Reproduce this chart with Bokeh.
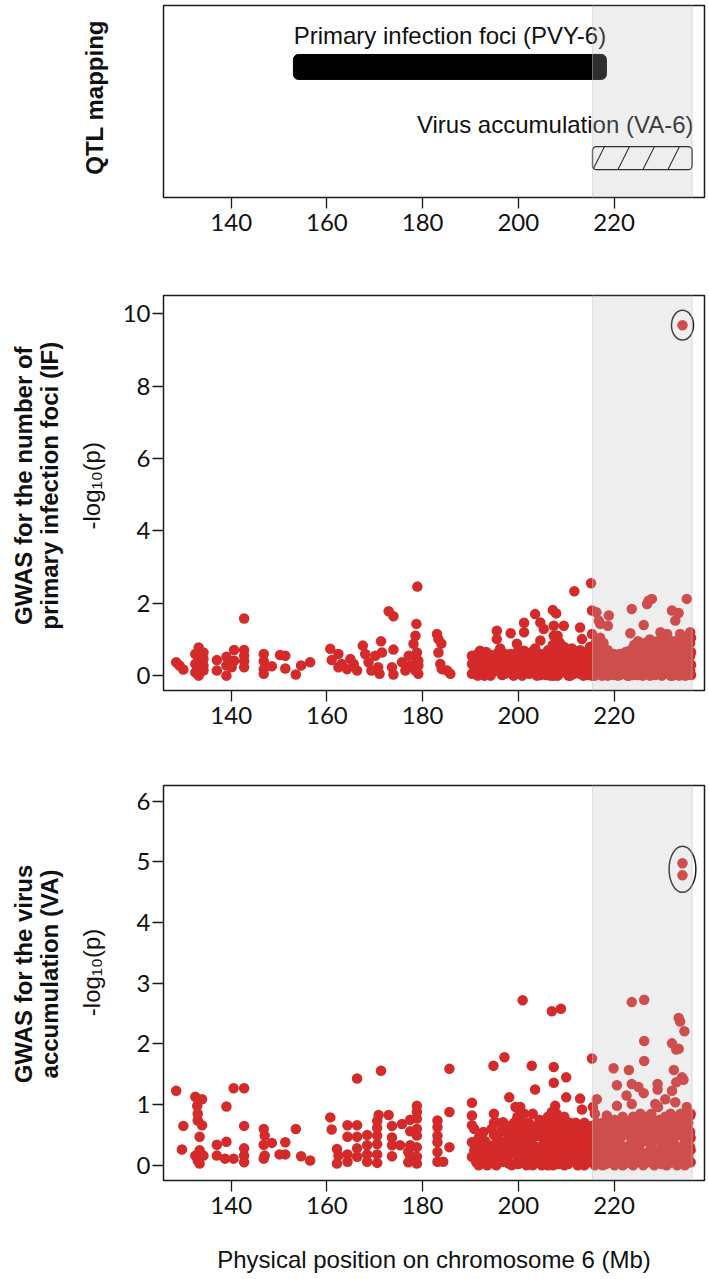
import math
from bokeh.plotting import figure
from bokeh.models import Range1d, BoxAnnotation, Label, FixedTicker
from bokeh.layouts import column, row
from bokeh.embed import file_html
from bokeh.resources import INLINE

# ---------------- data ----------------
qtl_names = ["Primary infection foci (PVY-6)", "Virus accumulation (VA-6)"]
qtl_start = [153.0, 215.5]
qtl_end = [218.4, 236.3]

x_ticks = [140, 160, 180, 200, 220]
if_ticks = [0, 2, 4, 6, 8, 10]
va_ticks = [0, 1, 2, 3, 4, 5, 6]

# GWAS IF: positions (Mb) and -log10(p) values read at each position
if_pos = [128.5, 129.2, 130.0, 132.5, 133.2, 134.2, 137.0, 139.0, 140.1, 140.6,
          142.7, 146.8, 148.5, 150.2, 151.3, 153.5, 154.6, 156.5, 160.7, 161.0,
          162.4, 163.1, 164.2, 164.9, 165.6, 166.3, 167.5, 168.0, 168.7, 169.3,
          170.1, 170.7, 171.0, 171.3, 171.5, 172.9, 173.6, 173.9, 175.7, 176.4,
          177.1, 177.4, 178.1, 178.5, 178.7, 178.9, 178.8, 179.1, 183.0, 183.3,
          183.9, 183.7, 184.0, 185.1, 185.8, 190.3, 191.0, 192.0, 192.9, 193.8,
          194.6, 195.5, 195.8, 196.6, 197.7, 198.4, 199.7, 200.4, 201.2, 202.3,
          203.5, 204.6, 205.3, 206.2, 207.2, 207.4, 207.9, 208.6, 209.5, 210.5,
          211.2, 211.7, 212.2, 212.9, 213.3, 214.0, 215.0, 215.2, 215.4, 216.3,
          216.8, 217.1, 217.8, 218.7, 218.9, 219.5, 220.4, 221.2, 222.0, 222.8,
          223.4, 223.7, 224.2, 225.0, 225.8, 226.2, 226.5, 226.9, 227.2, 227.9,
          227.5, 228.3, 229.0, 229.7, 230.4, 231.1, 231.8, 232.1, 232.5, 232.8,
          233.5, 233.2, 233.8, 234.5, 235.2, 235.9]
if_vals = [[0.37], [0.28], [0.17], [0.60, 0.32, 0.09], [0.78, 0.64, 0.49, 0.37, 0.23, 0.09, 0.0],
           [0.64, 0.46, 0.28, 0.14], [0.43, 0.14], [0.52, 0.28, 0.0], [0.37, 0.23], [0.71, 0.41],
           [1.58, 0.71, 0.55, 0.40, 0.23], [0.60, 0.40, 0.18, 0.05], [0.26], [0.57], [0.55, 0.20],
           [0.03], [0.28], [0.37], [0.74], [0.43],
           [0.60, 0.23], [0.32], [0.18], [0.46], [0.32], [0.14], [0.83], [0.60], [0.37], [0.14],
           [0.55], [0.23], [0.05], [0.95], [0.64], [1.78], [0.23], [1.64, 0.72, 0.03], [0.37], [0.14],
           [0.55], [0.28], [0.88, 0.23], [1.10, 0.14], [1.43], [2.46], [0.64, 0.45], [0.41, 0.05, 0.28], [1.15], [1.01, 0.64],
           [0.89], [0.32], [0.18], [0.14], [0.05], [0.55, 0.32, 0.05], [0.45, 0.18], [0.69, 0.41, 0.14], [0.30, 0.0], [0.50, 0.23, 0.05],
           [0.40, 0.10], [1.24, 1.01], [0.64, 0.37, 0.14], [0.50, 0.25, 0.02], [0.46, 0.23], [1.17, 0.60, 0.08], [0.88, 0.60, 0.32, 0.05], [0.45, 0.18], [1.46, 1.20, 0.69, 0.41, 0.10], [0.55, 0.30, 0.05],
           [1.70, 0.75, 0.45, 0.15], [1.47, 0.97, 0.60, 0.32, 0.02], [1.29, 0.50, 0.20], [0.70, 0.40, 0.10], [1.81, 0.85, 0.55, 0.25], [1.38, 1.10, 0.70, 0.0], [1.72, 0.45, 0.15], [0.92, 0.65, 0.35, 0.05], [1.38, 0.80, 0.50, 0.20], [0.60, 0.30, 0.0],
           [0.75, 0.45, 0.12], [2.33], [0.55, 0.25], [1.33, 0.70, 0.40, 0.05], [1.01], [0.55, 0.28, 0.10], [0.80, 0.45, 0.15], [2.55], [1.80, 1.15, 0.62, 0.30, 0.0], [1.75, 0.95, 0.55, 0.20],
           [1.52, 0.80, 0.40, 0.05], [1.43, 1.05, 0.65, 0.30], [0.90, 0.50, 0.15], [1.38, 0.70, 0.35, 0.0], [1.66], [0.55, 0.25, 0.05], [0.45, 0.15], [0.60, 0.30, 0.02], [0.40, 0.10], [0.55, 0.25, 0.0],
           [1.17, 0.70, 0.35], [1.84], [0.85, 0.50, 0.15], [0.95, 0.60, 0.30, 0.02], [0.75, 0.40, 0.10], [1.40], [0.90, 0.55, 0.20], [1.98], [2.07], [2.12],
           [1.00, 0.65, 0.30, 0.0], [0.80, 0.45, 0.15], [0.95, 0.60, 0.25], [1.20, 0.85, 0.50, 0.05], [0.70, 0.35, 0.10], [1.15, 0.90, 0.55, 0.20], [0.75, 0.40, 0.0], [1.80], [0.95, 0.60, 0.25], [1.52],
           [1.73], [0.80, 0.45, 0.10], [1.15, 0.95, 0.55, 0.20], [0.70, 0.35, 0.02], [2.12, 1.00, 0.60, 0.25], [1.20, 0.90, 0.55, 0.15]]
# dense lower band of IF markers between 190 and 236 Mb
if_pos_dense = [190.7, 191.5, 192.5, 193.3, 194.2, 195.1, 196.2, 197.2, 198.0, 199.0,
                200.0, 200.8, 201.8, 202.8, 203.9, 204.9, 205.8, 206.7, 207.7, 208.2,
                209.0, 210.0, 210.9, 211.6, 212.6, 213.6, 214.5, 215.8, 216.0, 217.5,
                218.2, 219.1, 220.0, 220.8, 221.6, 222.4, 223.1, 223.9, 224.6, 225.4,
                226.0, 226.8, 227.8, 228.6, 229.3, 230.0, 230.8, 231.5, 232.2, 232.9,
                233.6, 234.1, 234.9, 235.5, 236.1]
if_vals_dense = [[0.40, 0.10], [0.60, 0.30, 0.0], [0.55, 0.20], [0.65, 0.35, 0.10], [0.58, 0.25, 0.0],
                 [0.50, 0.20], [0.75, 0.40, 0.10], [0.60, 0.30, 0.05], [0.40, 0.15], [0.50, 0.25, 0.0],
                 [0.70, 0.35, 0.10], [0.55, 0.25, 0.0], [0.45, 0.15], [0.65, 0.40, 0.10], [0.60, 0.30, 0.0],
                 [0.45, 0.15], [0.60, 0.30, 0.02], [0.55, 0.25, 0.0], [0.90, 0.60, 0.30, 0.05], [1.10, 0.80, 0.55, 0.25, 0.0],
                 [0.65, 0.40, 0.10], [0.75, 0.45, 0.15], [0.55, 0.20, 0.0], [0.65, 0.35, 0.05], [0.50, 0.15],
                 [0.65, 0.40, 0.0], [0.50, 0.20, 0.02], [0.45, 0.10], [0.70, 0.35, 0.0], [0.20, 0.0],
                 [0.55, 0.25, 0.05], [0.40, 0.10], [0.60, 0.30, 0.02], [0.55, 0.20, 0.0], [0.45, 0.15],
                 [0.65, 0.35, 0.05], [0.50, 0.15, 0.0], [0.60, 0.30, 0.02], [0.70, 0.35, 0.05], [0.50, 0.15],
                 [0.65, 0.30, 0.0], [0.75, 0.40, 0.10], [0.55, 0.20], [0.65, 0.30, 0.02], [0.40, 0.10],
                 [0.95, 0.60, 0.25, 0.0], [0.50, 0.15], [0.65, 0.30, 0.05], [0.50, 0.15, 0.0], [0.65, 0.30, 0.05],
                 [0.60, 0.35, 0.0], [0.85, 0.45, 0.15], [0.90, 0.55, 0.20, 0.0], [0.70, 0.40, 0.05], [1.05, 0.65, 0.30, 0.02]]
if_peak_pos = [234.3]
if_peak_val = [9.68]

# GWAS VA
va_pos = [128.5, 129.7, 130.0, 132.5, 132.9, 133.0, 133.4, 133.9, 134.2, 137.0,
          138.7, 139.0, 140.5, 142.7, 146.8, 147.0, 148.5, 150.1, 151.3, 153.5,
          154.6, 156.5, 160.7, 161.0, 162.1, 162.4, 164.3, 166.3, 168.4, 170.5,
          170.8, 171.3, 172.9, 173.6, 175.3, 175.7, 177.0, 177.4, 178.8, 183.1,
          184.3, 185.6, 190.3, 191.2, 192.2, 193.0, 193.9, 194.8, 194.9, 195.8,
          196.8, 197.1, 198.0, 198.1, 199.4, 199.8, 200.4, 200.9, 201.2, 202.2,
          202.8, 203.5, 204.4, 205.3, 206.2, 207.0, 207.4, 207.7, 208.4, 208.9,
          209.2, 210.0, 210.8, 211.6, 212.4, 212.9, 213.3, 214.2, 215.0, 215.4,
          215.6, 216.4, 217.2, 218.0, 218.5, 218.9, 219.6, 219.9, 220.6, 221.4,
          222.2, 222.6, 223.1, 223.7, 224.3, 225.1, 225.8, 226.2, 226.3, 226.8,
          227.5, 228.1, 228.6, 229.1, 229.2, 229.9, 230.7, 231.4, 232.1, 232.5,
          232.8, 233.0, 233.5, 233.8, 234.2, 234.5, 234.7, 235.2, 235.9]
va_vals = [[1.23], [0.26], [0.65], [1.13, 0.16], [0.98], [0.85, 0.74, 0.08], [0.47, 0.25, 0.03], [1.09, 0.66], [0.16], [0.34, 0.16],
           [0.11], [0.97, 0.39], [1.27, 0.11], [1.27, 0.65, 0.28, 0.16, 0.05], [0.60, 0.34, 0.11], [0.49, 0.16], [0.37], [0.18], [0.38, 0.18], [0.60],
           [0.15], [0.08], [0.79], [0.59], [0.27, 0.03], [0.16], [0.66, 0.47, 0.18, 0.06], [1.43, 0.66, 0.47, 0.28, 0.14], [0.50, 0.33, 0.18, 0.06], [0.73, 0.62, 0.49, 0.35, 0.18, 0.04],
           [0.83], [1.56], [0.83], [0.65, 0.46, 0.33, 0.15], [0.33], [0.68], [0.22, 0.05], [0.75, 0.56, 0.33, 0.16], [0.98, 0.88, 0.77, 0.60, 0.49, 0.30, 0.14, 0.03], [0.74, 0.63, 0.49, 0.38, 0.22, 0.06],
           [0.06], [1.59, 0.88, 0.30], [1.03, 0.82, 0.66, 0.38, 0.14], [0.25, 0.05], [0.33, 0.16, 0.03], [0.40, 0.10], [0.16, 0.05], [1.64], [0.85, 0.70, 0.50, 0.33, 0.16, 0.03], [0.45, 0.25, 0.08],
           [0.71, 0.57, 0.38, 0.22, 0.06], [1.78], [0.49, 0.33, 0.17, 0.03], [1.12], [0.96], [0.80, 0.60, 0.44, 0.28, 0.11], [0.96], [2.72], [0.85, 0.60, 0.33, 0.10], [0.70, 0.45, 0.20, 0.02],
           [1.64], [1.25, 0.55, 0.30, 0.08], [0.75, 0.48, 0.18], [0.65, 0.35, 0.05], [0.80, 0.50, 0.22, 0.0], [2.54, 0.88, 0.60, 0.30, 0.08], [1.62, 1.36], [0.98, 0.45, 0.15], [0.75, 0.50, 0.25, 0.02], [2.58],
           [0.65, 0.35, 0.10], [1.45, 1.12, 0.55, 0.20], [0.70, 0.40, 0.05], [0.55, 0.25], [0.45, 0.15, 0.0], [1.10], [0.92, 0.60, 0.30, 0.05], [0.45, 0.15], [0.35, 0.08], [1.76],
           [0.96, 0.55, 0.20], [1.09, 0.70, 0.40, 0.10], [0.55, 0.25, 0.02], [0.45, 0.15], [0.82, 0.30], [0.74, 0.05], [0.50, 0.20], [1.60], [1.32, 0.98, 0.65, 0.35, 0.08], [0.45, 0.15],
           [0.70, 0.30, 0.02], [1.15], [1.57, 0.50, 0.20], [2.69, 1.34, 1.01, 0.75], [0.40, 0.10], [1.29, 0.65, 0.30], [0.50, 0.15], [1.19], [2.73, 2.05, 1.72], [0.80, 0.40, 0.05],
           [0.60, 0.25], [0.75, 0.40, 0.10], [1.01], [1.34, 1.25], [0.96, 0.55, 0.20], [0.70, 0.35, 0.02], [1.09, 0.80, 0.45, 0.15], [0.60, 0.25], [2.01, 1.23, 0.70, 0.35, 0.05], [1.57],
           [1.04, 0.50, 0.15], [1.91, 1.37], [2.43, 1.92, 0.80, 0.30], [2.37], [1.45, 0.60, 0.10], [1.41], [2.21], [0.96, 0.45, 0.20], [0.82, 0.55, 0.30, 0.05]]
# dense lower band of VA markers between 190 and 236 Mb
va_pos_dense = [190.8, 191.7, 192.7, 193.5, 194.4, 195.4, 196.3, 197.5, 198.6, 199.1,
                200.0, 200.7, 201.7, 202.6, 203.0, 203.9, 204.9, 205.8, 206.6, 207.3,
                208.0, 208.7, 209.6, 210.4, 211.2, 212.0, 212.8, 213.8, 214.6, 215.3,
                216.0, 216.8, 217.6, 218.3, 219.2, 220.1, 221.0, 221.8, 222.5, 223.4,
                224.0, 224.8, 225.5, 226.1, 227.0, 227.8, 228.4, 229.5, 230.3, 231.0,
                231.8, 232.4, 233.2, 233.9, 234.8, 235.5, 236.0]
va_vals_dense = [[0.60, 0.25], [0.45, 0.10, 0.0], [0.55, 0.25, 0.05], [0.35, 0.15, 0.0], [0.60, 0.25, 0.05],
                 [0.70, 0.35, 0.0], [0.55, 0.15], [0.65, 0.40, 0.10], [0.55, 0.25, 0.0], [0.70, 0.40],
                 [0.55, 0.20, 0.02], [0.70, 0.45, 0.15], [0.55, 0.25, 0.0], [0.60, 0.35, 0.10], [0.85, 0.45, 0.15, 0.0],
                 [0.65, 0.30, 0.05], [0.55, 0.25, 0.0], [0.75, 0.45, 0.15], [0.60, 0.30, 0.05], [0.70, 0.40, 0.10, 0.0],
                 [0.85, 0.55, 0.30, 0.05], [0.60, 0.35, 0.10], [0.80, 0.45, 0.20, 0.0], [0.55, 0.25, 0.02], [0.60, 0.30, 0.10],
                 [0.70, 0.35, 0.05], [0.55, 0.25, 0.02], [0.70, 0.40, 0.15, 0.0], [0.55, 0.25, 0.05], [0.65, 0.40, 0.15],
                 [0.85, 0.55, 0.25, 0.0], [0.60, 0.35, 0.10], [0.70, 0.40, 0.10, 0.0], [0.55, 0.25, 0.02], [0.60, 0.35, 0.05],
                 [0.75, 0.45, 0.20, 0.0], [0.60, 0.30, 0.05], [0.80, 0.50, 0.25, 0.0], [0.55, 0.15], [0.65, 0.35, 0.05],
                 [0.80, 0.55, 0.25, 0.0], [0.70, 0.45, 0.15], [0.85, 0.60, 0.35, 0.05], [0.75, 0.50, 0.20, 0.0], [0.65, 0.40, 0.15],
                 [0.85, 0.55, 0.30, 0.05], [0.60, 0.25, 0.0], [0.75, 0.45, 0.10], [0.60, 0.30, 0.02], [0.75, 0.45, 0.10, 0.0],
                 [0.85, 0.50, 0.20, 0.05], [0.70, 0.40, 0.10], [0.65, 0.50, 0.20, 0.0], [0.85, 0.50, 0.25, 0.05], [0.75, 0.40, 0.10, 0.0],
                 [0.70, 0.60, 0.35, 0.15], [0.85, 0.45, 0.25, 0.05]]
va_peak_pos = [234.3, 234.3]
va_peak_val = [4.98, 4.78]


def flatten(pos, vals):
    xs, ys = [], []
    for p_, vs in zip(pos, vals):
        for v in vs:
            xs.append(p_)
            ys.append(v)
    return xs, ys


# ---------------- styling / layout ----------------
W = 708
LW = 114                  # width of the side strip that carries the rotated titles
LEFT = 163 - LW           # left border of the main figures
XR = (125.85, 238.9)
RED = "#d42a2a"
DOT = 10.5
TICK_FONT = "Lato"
TXT_FONT = "Liberation Sans"
DX, DY = -9, 25           # correction of the rotated label anchor (pixels)


def make_fig(height, yr, top, bottom):
    f = figure(width=W - LW, height=height, x_range=Range1d(*XR), y_range=Range1d(*yr),
               output_backend="svg", toolbar_location=None, tools="",
               min_border_left=LEFT, min_border_right=4, min_border_top=top,
               min_border_bottom=bottom)
    f.xgrid.visible = False
    f.ygrid.visible = False
    f.outline_line_color = "#1a1a1a"
    f.outline_line_width = 1.5
    f.background_fill_color = "white"
    f.border_fill_color = "white"
    for ax in f.xaxis:
        ax.ticker = FixedTicker(ticks=x_ticks)
        ax.axis_line_color = None
        ax.major_tick_out = 11
        ax.major_tick_in = 0
        ax.minor_tick_out = 0
        ax.major_tick_line_width = 1.3
        ax.major_tick_line_color = "#1a1a1a"
        ax.major_label_text_font = TICK_FONT
        ax.major_label_text_font_size = "24px"
        ax.major_label_text_color = "#111111"
        ax.major_label_standoff = 5
    return f


def side_fig(height):
    # strip left of each panel: frame covers the whole canvas, units are pixels (y from top)
    f = figure(width=LW, height=height, x_range=Range1d(0, LW), y_range=Range1d(height, 0),
               output_backend="svg", toolbar_location=None, tools="",
               min_border_left=0, min_border_right=0, min_border_top=0, min_border_bottom=0)
    f.xaxis.visible = False
    f.yaxis.visible = False
    f.xgrid.visible = False
    f.ygrid.visible = False
    f.outline_line_color = None
    f.background_fill_color = "white"
    f.border_fill_color = "white"
    return f


def band(f, height, bottom_data=None):
    kw = dict(top=0, top_units="canvas")
    if bottom_data is None:
        kw.update(bottom=height, bottom_units="canvas")
    else:
        kw.update(bottom=bottom_data, bottom_units="data")
    f.add_layout(BoxAnnotation(left=qtl_start[1], right=qtl_end[1], fill_color="#bcbcbc",
                               fill_alpha=0.25, line_color=None, level="overlay", **kw))
    for edge in (qtl_start[1], qtl_end[1]):
        f.add_layout(BoxAnnotation(left=edge, right=edge, fill_alpha=0, line_color="#c2c2c2",
                                   line_width=1, level="overlay", **kw))


def yaxis_style(f, ticks):
    ax = f.yaxis[0]
    ax.ticker = FixedTicker(ticks=ticks)
    ax.axis_line_color = None
    ax.major_tick_out = 11
    ax.major_tick_in = 0
    ax.minor_tick_out = 0
    ax.major_tick_line_width = 1.3
    ax.major_tick_line_color = "#1a1a1a"
    ax.major_label_text_font = TICK_FONT
    ax.major_label_text_font_size = "24px"
    ax.major_label_text_color = "#111111"
    ax.major_label_standoff = 2


def rot_label(f, text, cx, cy, style="bold", size="24px"):
    f.add_layout(Label(x=cx + DX, y=cy + DY, text=text, angle=math.pi / 2, text_align="center",
                       text_baseline="alphabetic", text_font=TXT_FONT, text_font_size=size,
                       text_font_style=style, text_color="#111111"))


NEGLOG = "-log\u2081\u2080(p)"

# ---------------- panel 1: QTL mapping ----------------
H1 = 280
p1 = make_fig(H1, (0, 1), 5, 83)
p1.yaxis.visible = False
p1.hbar(y=[0.68], left=[qtl_start[0]], right=[qtl_end[0]], height=0.13,
        fill_color="black", line_color="black", border_radius=5)
p1.hbar(y=[0.205], left=[qtl_start[1]], right=[qtl_end[1]], height=0.12,
        fill_color="white", line_color="black", line_width=1.3,
        hatch_pattern="/", hatch_color="black", hatch_scale=50, hatch_weight=1.1,
        border_radius=4)
p1.add_layout(Label(x=(qtl_start[0] + qtl_end[0]) / 2, y=0.844, text=qtl_names[0],
                    text_align="center", text_baseline="alphabetic", text_font=TXT_FONT,
                    text_font_size="24px", text_color="#111111"))
p1.add_layout(Label(x=qtl_end[1] + 0.3, y=0.38, text=qtl_names[1],
                    text_align="right", text_baseline="alphabetic", text_font=TXT_FONT,
                    text_font_size="24px", text_color="#111111"))
band(p1, H1)
s1 = side_fig(H1)
rot_label(s1, "QTL mapping", 103, 109)

# ---------------- panel 2: GWAS IF ----------------
H2 = 490
p2 = make_fig(H2, (-0.41, 10.5), 15, 80)
yaxis_style(p2, if_ticks)
xs, ys = flatten(if_pos, if_vals)
xd, yd = flatten(if_pos_dense, if_vals_dense)
p2.scatter(xs + xd, ys + yd, size=DOT, fill_color=RED, line_color=None)
p2.scatter(if_peak_pos, if_peak_val, size=DOT, fill_color=RED, line_color=None)
p2.ellipse(x=[sum(if_peak_pos) / len(if_peak_pos)], y=[sum(if_peak_val) / len(if_peak_val)],
           width=4.6, height=0.82, fill_color=None, line_color="#1a1a1a", line_width=1.5)
band(p2, H2)
s2 = side_fig(H2)
rot_label(s2, "GWAS for the number of", 32, 211)
rot_label(s2, "primary infection foci (IF)", 58, 211)
rot_label(s2, NEGLOG, 100, 211, style="normal")

# ---------------- panel 3: GWAS VA ----------------
H3 = 505
p3 = make_fig(H3, (-0.25, 6.26), 15, 93)
yaxis_style(p3, va_ticks)
xs, ys = flatten(va_pos, va_vals)
xd, yd = flatten(va_pos_dense, va_vals_dense)
p3.scatter(xs + xd, ys + yd, size=DOT, fill_color=RED, line_color=None)
p3.scatter(va_peak_pos, va_peak_val, size=DOT, fill_color=RED, line_color=None)
p3.ellipse(x=[sum(va_peak_pos) / len(va_peak_pos)], y=[sum(va_peak_val) / len(va_peak_val)],
           width=5.6, height=0.76, fill_color=None, line_color="#1a1a1a", line_width=1.5)
p3.xaxis.axis_label = "Physical position on chromosome 6 (Mb)"
p3.xaxis.axis_label_text_font = TXT_FONT
p3.xaxis.axis_label_text_font_size = "24px"
p3.xaxis.axis_label_text_font_style = "normal"
p3.xaxis.axis_label_text_color = "#111111"
p3.xaxis.axis_label_standoff = 29
band(p3, H3, bottom_data=-0.25)
s3 = side_fig(H3)
rot_label(s3, "GWAS for the virus", 32, 216)
rot_label(s3, "accumulation (VA)", 58, 216)
rot_label(s3, NEGLOG, 100, 214, style="normal")

layout = column(row(s1, p1, spacing=0), row(s2, p2, spacing=0), row(s3, p3, spacing=0), spacing=0)
open("out.html", "w").write(file_html(layout, INLINE))
